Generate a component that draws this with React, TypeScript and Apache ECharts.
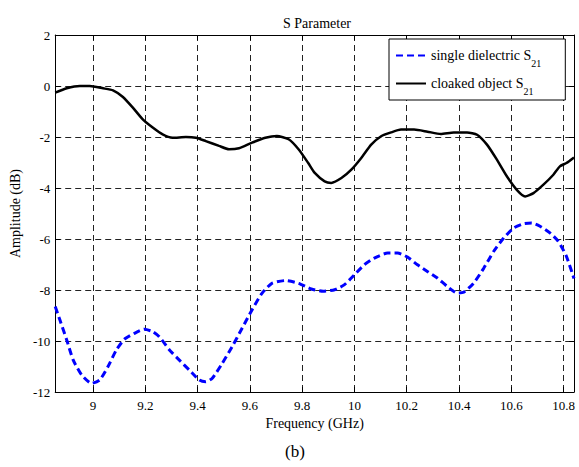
import React, { useEffect, useRef } from "react";
import * as echarts from "echarts";

const X_MIN = 8.855;
const X_MAX = 10.84;

const blackFreq = [8.855, 8.899, 8.949, 8.987, 9.038, 9.076, 9.114, 9.152, 9.19, 9.228, 9.266, 9.304, 9.355, 9.393, 9.431, 9.482, 9.52, 9.558, 9.608, 9.659, 9.703, 9.748, 9.786, 9.823, 9.848, 9.886, 9.911, 9.95, 9.988, 10.026, 10.064, 10.102, 10.14, 10.178, 10.228, 10.279, 10.33, 10.38, 10.431, 10.469, 10.507, 10.545, 10.583, 10.621, 10.653, 10.685, 10.723, 10.761, 10.786, 10.811, 10.84];
const blackAmp = [-0.26, -0.09, 0.0, 0.0, -0.09, -0.17, -0.43, -0.85, -1.31, -1.63, -1.9, -2.03, -2.0, -2.03, -2.16, -2.35, -2.48, -2.44, -2.22, -2.03, -1.96, -2.09, -2.48, -3.02, -3.41, -3.74, -3.8, -3.61, -3.28, -2.82, -2.3, -1.97, -1.82, -1.71, -1.71, -1.79, -1.88, -1.82, -1.82, -1.91, -2.3, -2.89, -3.54, -4.07, -4.33, -4.2, -3.87, -3.48, -3.15, -3.02, -2.8];

const blueFreq = [8.855, 8.873, 8.899, 8.924, 8.956, 8.994, 9.025, 9.057, 9.089, 9.12, 9.158, 9.196, 9.228, 9.253, 9.292, 9.33, 9.368, 9.406, 9.431, 9.456, 9.494, 9.532, 9.57, 9.608, 9.646, 9.684, 9.735, 9.786, 9.835, 9.88, 9.924, 9.962, 10.0, 10.038, 10.076, 10.127, 10.165, 10.203, 10.241, 10.279, 10.317, 10.355, 10.393, 10.418, 10.456, 10.495, 10.533, 10.571, 10.609, 10.647, 10.678, 10.71, 10.748, 10.78, 10.811, 10.84];
const blueAmp = [-8.65, -9.18, -9.96, -10.75, -11.33, -11.66, -11.53, -11.0, -10.35, -9.93, -9.7, -9.54, -9.63, -9.83, -10.35, -10.75, -11.14, -11.53, -11.6, -11.46, -10.88, -10.22, -9.5, -8.78, -8.13, -7.74, -7.63, -7.74, -7.96, -8.05, -7.99, -7.79, -7.4, -7.01, -6.75, -6.55, -6.55, -6.71, -7.01, -7.27, -7.53, -7.86, -8.12, -8.09, -7.73, -7.14, -6.48, -5.96, -5.57, -5.4, -5.37, -5.5, -5.76, -6.09, -6.68, -7.55];

const seriesNames = ["single dielectric S21", "cloaked object S21"];
const legendMain = ["single dielectric S", "cloaked object S"];
const legendSub = ["21", "21"];

const FONT = "'Times New Roman', 'Liberation Serif', 'DejaVu Serif', serif";

export default function App() {
  const ref = useRef<HTMLDivElement>(null);
  useEffect(() => {
    const chart = echarts.init(ref.current!, null, { renderer: "svg" });
    const black = "#000";
    const xCommon = {
      type: "value",
      min: X_MIN,
      max: X_MAX,
      splitNumber: 10,
      axisLine: { show: true, onZero: false, lineStyle: { color: black, width: 1 } },
      axisTick: { show: true, inside: true, length: 5, lineStyle: { color: black } },
    };
    const yCommon = {
      type: "value",
      min: -12,
      max: 2,
      interval: 2,
      axisLine: { show: true, onZero: false, lineStyle: { color: black, width: 1 } },
      axisTick: { show: true, inside: true, length: 5, lineStyle: { color: black } },
    };
    chart.setOption({
      animation: false,
      textStyle: { fontFamily: FONT, color: black },
      title: {
        text: "S Parameter",
        left: 312,
        top: 11,
        textAlign: "center",
        textStyle: { fontFamily: FONT, fontSize: 14, fontWeight: "normal", color: black },
      },
      grid: { left: 52, right: 5, top: 35, bottom: 75, containLabel: false },
      legend: {
        orient: "vertical",
        left: 389,
        top: 39,
        data: seriesNames,
        itemWidth: 30,
        itemHeight: 14,
        itemGap: 3,
        padding: [4, 24, 4, 6],
        backgroundColor: "#fff",
        borderColor: black,
        borderWidth: 1,
        borderRadius: 0,
        itemStyle: { opacity: 0 },
        formatter: (name: string) => {
          const i = seriesNames.indexOf(name);
          return `{m|${legendMain[i]}}{s|${legendSub[i]}}`;
        },
        textStyle: {
          fontFamily: FONT,
          rich: {
            m: { fontFamily: FONT, fontSize: 14, color: black, lineHeight: 16, verticalAlign: "middle" },
            s: { fontFamily: FONT, fontSize: 10, color: black, lineHeight: 12, padding: [15, 0, 0, 0], verticalAlign: "middle" },
          },
        },
      },
      xAxis: [
        {
          ...xCommon,
          position: "bottom",
          name: "Frequency (GHz)",
          nameLocation: "middle",
          nameGap: 24,
          nameTextStyle: { fontFamily: FONT, fontSize: 14, color: black },
          axisLabel: { color: black, fontFamily: FONT, fontSize: 13, margin: 7, showMinLabel: false, showMaxLabel: false },
          splitLine: { show: true, lineStyle: { type: [6, 4], color: "#222", width: 1 } },
        },
        {
          ...xCommon,
          position: "top",
          axisLabel: { show: false },
          splitLine: { show: false },
        },
      ],
      yAxis: [
        {
          ...yCommon,
          position: "left",
          name: "Amplitude (dB)",
          nameLocation: "middle",
          nameGap: 32,
          nameRotate: 90,
          nameTextStyle: { fontFamily: FONT, fontSize: 14, color: black },
          axisLabel: { color: black, fontFamily: FONT, fontSize: 13, margin: 5 },
          splitLine: { show: true, lineStyle: { type: [6, 4], color: "#222", width: 1 } },
        },
        {
          ...yCommon,
          position: "right",
          axisLabel: { show: false },
          splitLine: { show: false },
        },
      ],
      series: [
        {
          name: seriesNames[0],
          type: "line",
          xAxisIndex: 0,
          yAxisIndex: 0,
          data: blueFreq.map((f, i) => [f, blueAmp[i]]),
          showSymbol: false,
          symbol: "none",
          smooth: 0.2,
          lineStyle: { color: "#0000ff", width: 3, type: [7, 4] },
          itemStyle: { color: "#0000ff" },
          z: 3,
        },
        {
          name: seriesNames[1],
          type: "line",
          xAxisIndex: 0,
          yAxisIndex: 0,
          data: blackFreq.map((f, i) => [f, blackAmp[i]]),
          showSymbol: false,
          symbol: "none",
          smooth: 0.2,
          lineStyle: { color: black, width: 2.5, type: "solid" },
          itemStyle: { color: black },
          z: 3,
        },
      ],
      graphic: [
        {
          type: "text",
          x: 295,
          y: 451,
          style: { text: "(b)", fontFamily: FONT, fontSize: 17, fill: black, align: "center", verticalAlign: "middle" },
        },
      ],
    });
    return () => chart.dispose();
  }, []);
  return <div ref={ref} style={{ position: "absolute", left: 0, top: 0, width: 579, height: 467, background: "#fff" }} />;
}
